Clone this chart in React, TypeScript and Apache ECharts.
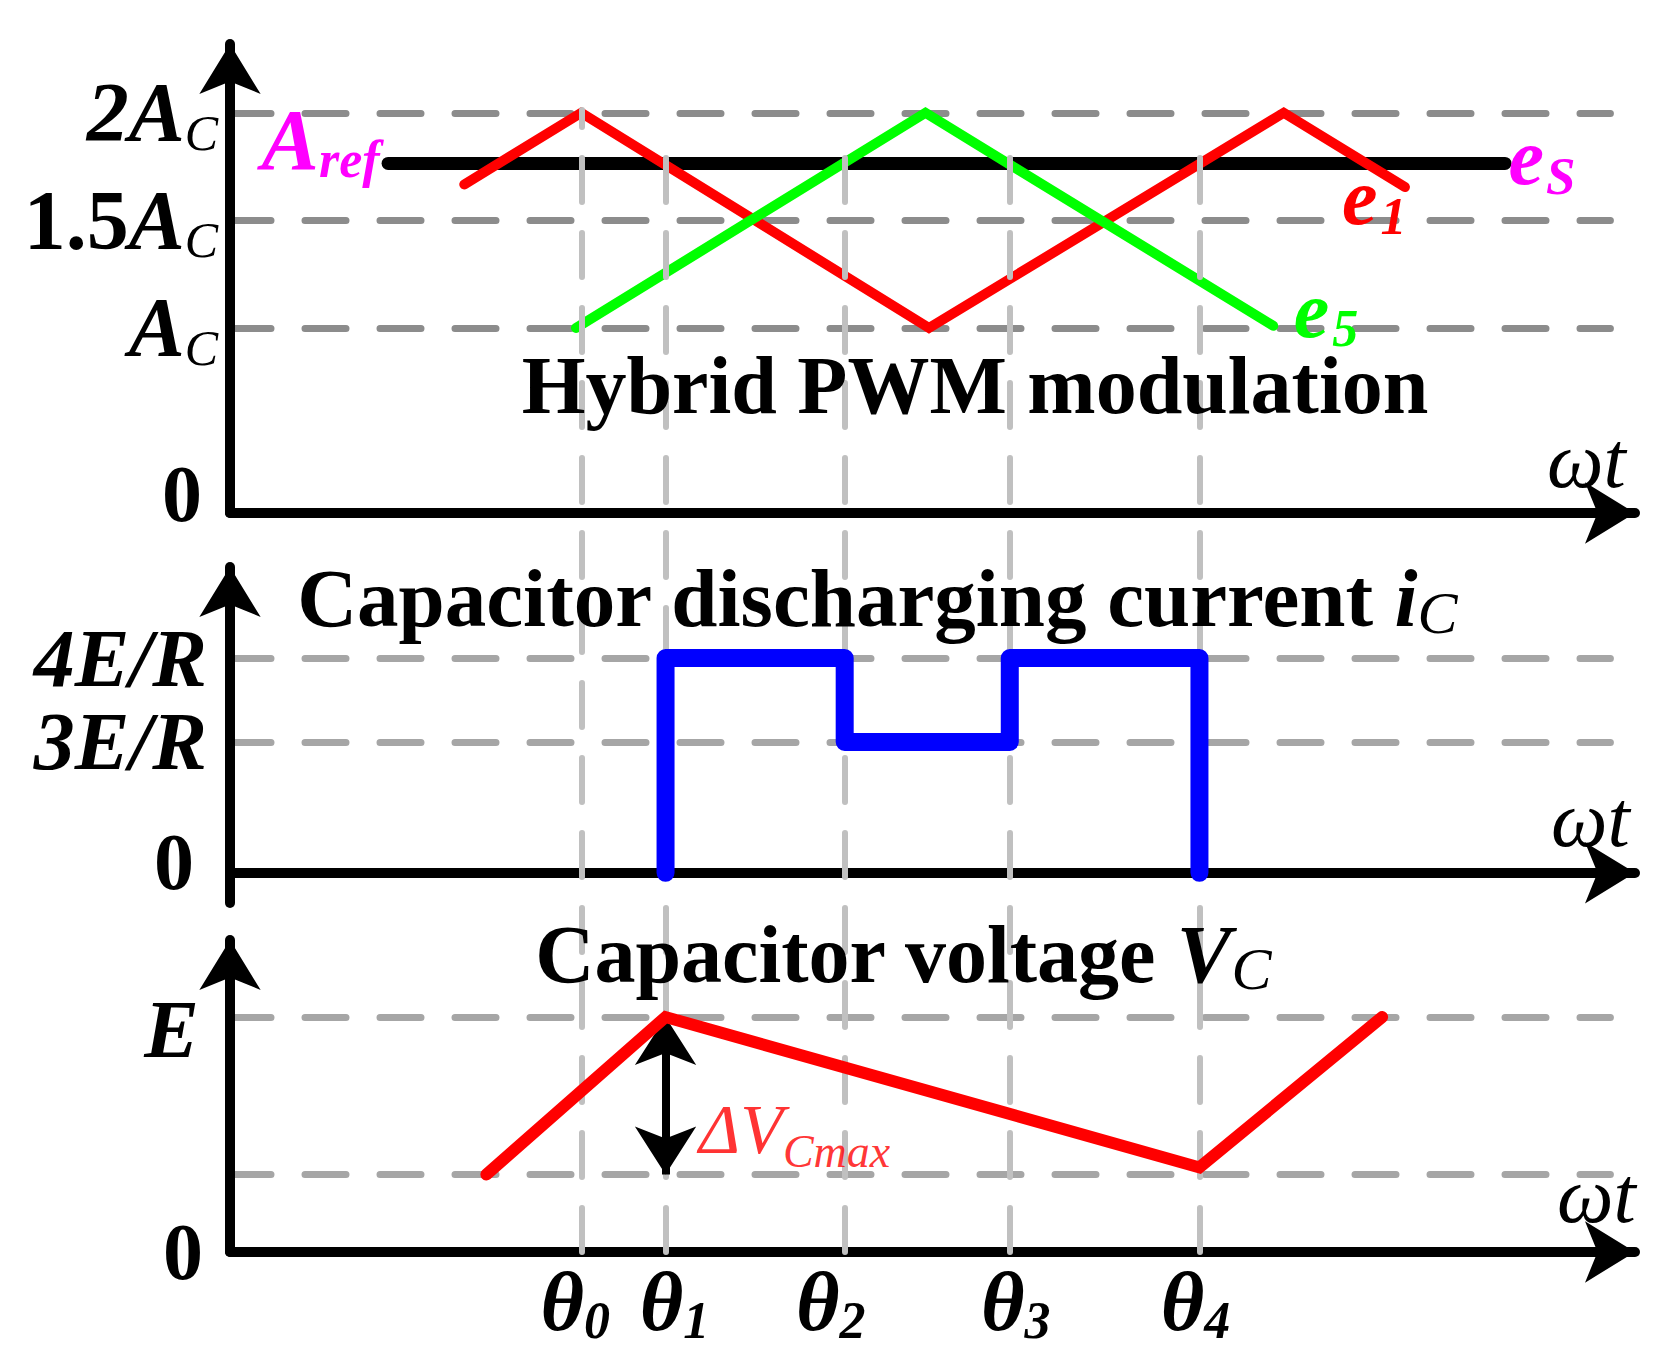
import React, { useEffect, useRef } from 'react';
import * as echarts from 'echarts';

const FONT = '"Liberation Serif", "Times New Roman", serif';

// ---- shared horizontal axis (ωt, in half carrier periods) ----
const X_MAX = 4.0;
const X_GUIDE_END = 3.93;
const thetaIndex = ['0', '1', '2', '3', '4'];
const thetaT = [1.0, 1.24, 1.75, 2.22, 2.76];
const thetaTop = [1.0, 0.97, 0.97, 0.97, 0.97];
const thetaLabelShift = [-6, 9, -14, 6, -4];

// ---- top panel: Hybrid PWM modulation (units of A_C) ----
const esT = [0.45, 3.63];
const esV = [1.765, 1.765];
const e1T = [0.667, 1.0, 1.99, 3.0, 3.345];
const e1V = [1.667, 2.0, 1.0, 2.0, 1.655];
const e5T = [0.985, 1.98, 2.97];
const e5V = [1.0, 2.0, 1.01];
const topGuideV = [2, 1.5, 1];
const topGuideLabel = ['{bi|2A}{si|C}', '{b|1.5}{bi|A}{si|C}', '{bi|A}{si|C}'];

// ---- middle panel: capacitor discharging current (units of E/R) ----
const icT = [thetaT[1], thetaT[1], thetaT[2], thetaT[2], thetaT[3], thetaT[3], thetaT[4], thetaT[4]];
const icV = [0, 4, 4, 3, 3, 4, 4, 0];
const midGuideV = [4, 3];
const midGuideLabel = ['{m|4E/R}', '{m|3E/R}'];

// ---- bottom panel: capacitor voltage (units of E) ----
const vcT = [0.73, thetaT[1], thetaT[4], 3.28];
const vcV = [0.33, 1.0, 0.36, 1.0];
const botGuideV = [1, 0.33];
const botGuideLabel = ['{m|E}', ''];
const dvT = thetaT[1];
const dvRange = [1.0, 0.33];
const dvLabelV = 0.52;

const pts = (t: number[], v: number[]) => t.map((x, i) => [x, v[i]]);

const RICH_AXIS = {
  b: { fontFamily: FONT, fontWeight: 'bold', fontSize: 84, lineHeight: 90, color: '#000' },
  bi: { fontFamily: FONT, fontWeight: 'bold', fontStyle: 'italic', fontSize: 84, lineHeight: 90, color: '#000' },
  si: { fontFamily: FONT, fontStyle: 'italic', fontSize: 50, lineHeight: 46, verticalAlign: 'bottom', color: '#000' },
  m: { fontFamily: FONT, fontWeight: 'bold', fontStyle: 'italic', fontSize: 82, lineHeight: 90, color: '#000' },
  z: { fontFamily: FONT, fontWeight: 'bold', fontSize: 80, lineHeight: 90, color: '#000' },
};
const RICH_THETA = {
  t: { fontFamily: FONT, fontWeight: 'bold', fontStyle: 'italic', fontSize: 84, lineHeight: 90, color: '#000' },
  s: { fontFamily: FONT, fontWeight: 'bold', fontStyle: 'italic', fontSize: 52, lineHeight: 48, verticalAlign: 'bottom', color: '#000' },
};
const richPair = (color: string, main: number, sub: number, subLh: number, italicOnly = false, subPad = 0) => ({
  a: { fontFamily: FONT, fontWeight: italicOnly ? 'normal' : 'bold', fontStyle: 'italic', fontSize: main, lineHeight: 90, color },
  s: {
    fontFamily: FONT,
    fontWeight: italicOnly ? 'normal' : 'bold',
    fontStyle: 'italic',
    fontSize: sub,
    lineHeight: subLh,
    verticalAlign: 'bottom',
    color,
    padding: [0, 0, 0, subPad],
  },
});

const ARROW_SIZE = [46, 50];

const xAxisOf = (gridIndex: number, nameGap: number, pad: number) => ({
  type: 'value',
  gridIndex,
  min: 0,
  max: X_MAX,
  z: 6,
  axisLine: {
    show: true,
    onZero: true,
    lineStyle: { color: '#000', width: 10, cap: 'round' },
    symbol: ['none', 'arrow'],
    symbolSize: ARROW_SIZE,
  },
  axisTick: { show: false },
  axisLabel: { show: false },
  splitLine: { show: false },
  name: 'ωt',
  nameLocation: 'end',
  nameGap,
  nameTextStyle: {
    fontFamily: FONT,
    fontStyle: 'italic',
    fontSize: 80,
    lineHeight: 80,
    color: '#000',
    align: 'left',
    verticalAlign: 'bottom',
    padding: [0, 0, pad, 0],
  },
});

const yAxisOf = (gridIndex: number, min: number, max: number, brk?: number[]) => ({
  type: 'value',
  gridIndex,
  min,
  max,
  z: 6,
  ...(brk ? { breaks: [{ start: brk[0], end: brk[1], gap: 0 }], breakArea: { show: false } } : {}),
  axisLine: {
    show: true,
    onZero: true,
    lineStyle: { color: '#000', width: 10, cap: 'round' },
    symbol: ['none', 'arrow'],
    symbolSize: ARROW_SIZE,
  },
  axisTick: { show: false },
  axisLabel: { show: false },
  splitLine: { show: false },
});

const guideLines = (
  values: number[],
  labels: string[],
  color: string,
  distance: number,
  zeroLabel: { distance: number; padding: number[] }
) => ({
  z: 3,
  silent: true,
  symbol: ['none', 'none'],
  lineStyle: { color, width: 7, type: [41, 34], cap: 'round' },
  label: { show: true, position: 'start', distance, rich: RICH_AXIS, lineHeight: 90, color: '#000' },
  data: [
    ...values.map((v, i) => [
      { coord: [0, v], label: { formatter: labels[i] || ' ', show: !!labels[i] } },
      { coord: [X_GUIDE_END, v] },
    ]),
    [
      {
        coord: [0, 0],
        lineStyle: { color: 'rgba(0,0,0,0)' },
        label: { formatter: '{z|0}', distance: zeroLabel.distance, padding: zeroLabel.padding },
      },
      { coord: [X_GUIDE_END, 0] },
    ],
  ],
});

function buildOption() {
  return {
    animation: false,
    backgroundColor: '#fff',
    textStyle: { fontFamily: FONT },
    grid: [
      { left: 230, right: 28, top: 44, bottom: 858 },
      { left: 230, right: 28, top: 567, bottom: 468 },
      { left: 230, right: 28, top: 940, bottom: 119 },
      { left: 230, right: 28, top: 110, bottom: 119 },
    ],
    xAxis: [
      xAxisOf(0, -88, 13),
      xAxisOf(1, -84, 14),
      xAxisOf(2, -78, 17),
      { type: 'value', gridIndex: 3, min: 0, max: X_MAX, show: false },
    ],
    yAxis: [
      yAxisOf(0, 0, 2.32, [0.4, 0.54]),
      yAxisOf(1, -0.36, 5.085, [0.6, 2.04]),
      yAxisOf(2, 0, 1.328),
      { type: 'value', gridIndex: 3, min: 0, max: 1, show: false },
    ],
    graphic: {
      elements: [
        {
          type: 'text',
          z: 20,
          x: 975,
          y: 385,
          style: {
            text: 'Hybrid PWM modulation',
            fontFamily: FONT,
            fontWeight: 'bold',
            fontSize: 82,
            lineHeight: 90,
            fill: '#000',
            align: 'center',
            verticalAlign: 'middle',
          },
        },
        {
          type: 'text',
          z: 20,
          x: 877,
          y: 598,
          style: {
            text: 'Capacitor discharging current {i|i}{s|C}',
            fontFamily: FONT,
            fontWeight: 'bold',
            fontSize: 83,
            lineHeight: 90,
            fill: '#000',
            align: 'center',
            verticalAlign: 'middle',
            rich: {
              i: { fontFamily: FONT, fontWeight: 'bold', fontStyle: 'italic', fontSize: 83, lineHeight: 90, fill: '#000' },
              s: { fontFamily: FONT, fontStyle: 'italic', fontSize: 60, lineHeight: 50, verticalAlign: 'bottom', fill: '#000' },
            },
          },
        },
        {
          type: 'text',
          z: 20,
          x: 903,
          y: 954,
          style: {
            text: 'Capacitor voltage {v|V}{s|C}',
            fontFamily: FONT,
            fontWeight: 'bold',
            fontSize: 82,
            lineHeight: 90,
            fill: '#000',
            align: 'center',
            verticalAlign: 'middle',
            rich: {
              v: { fontFamily: FONT, fontWeight: 'bold', fontStyle: 'italic', fontSize: 82, lineHeight: 90, fill: '#000' },
              s: { fontFamily: FONT, fontStyle: 'italic', fontSize: 60, lineHeight: 52, verticalAlign: 'bottom', fill: '#000' },
            },
          },
        },
      ],
    },
    series: [
      {
        name: 'e_S',
        type: 'line',
        xAxisIndex: 0,
        yAxisIndex: 0,
        z: 4,
        symbol: 'circle',
        symbolSize: 1,
        showSymbol: true,
        itemStyle: { color: '#000' },
        lineStyle: { color: '#000', width: 13, cap: 'round' },
        label: { show: false },
        data: [
          {
            value: [esT[0], esV[0]],
            label: {
              show: true,
              position: 'left',
              distance: 8,
              offset: [0, -23],
              formatter: '{a|A}{s|ref}',
              rich: richPair('#ff00ff', 86, 52, 54),
            },
          },
          {
            value: [esT[1], esV[1]],
            label: {
              show: true,
              position: 'right',
              distance: 3,
              offset: [0, -6],
              formatter: '{a|e}{s|S}',
              rich: richPair('#ff00ff', 80, 53, 44, false, 2),
            },
          },
        ],
        markLine: guideLines(topGuideV, topGuideLabel, '#8c8c8c', 12, { distance: 28, padding: [0, 0, 38, 0] }),
      },
      {
        name: 'e_1',
        type: 'line',
        xAxisIndex: 0,
        yAxisIndex: 0,
        z: 4,
        symbol: 'circle',
        symbolSize: 1,
        showSymbol: true,
        itemStyle: { color: '#ff0000' },
        lineStyle: { color: '#ff0000', width: 10, cap: 'round', join: 'miter' },
        label: { show: false },
        data: pts(e1T, e1V).map((p, i) =>
          i === e1T.length - 1
            ? {
                value: p,
                label: {
                  show: true,
                  position: 'left',
                  distance: 0,
                  offset: [2, 10],
                  formatter: '{a|e}{s|1}',
                  rich: richPair('#ff0000', 80, 52, 48, false, 3),
                },
              }
            : { value: p }
        ),
      },
      {
        name: 'e_5',
        type: 'line',
        xAxisIndex: 0,
        yAxisIndex: 0,
        z: 4,
        symbol: 'circle',
        symbolSize: 1,
        showSymbol: true,
        itemStyle: { color: '#00ff00' },
        lineStyle: { color: '#00ff00', width: 10, cap: 'round', join: 'miter' },
        label: { show: false },
        data: pts(e5T, e5V).map((p, i) =>
          i === e5T.length - 1
            ? {
                value: p,
                label: {
                  show: true,
                  position: 'right',
                  distance: 20,
                  offset: [0, -16],
                  formatter: '{a|e}{s|5}',
                  rich: richPair('#00ff00', 80, 52, 40, false, 3),
                },
              }
            : { value: p }
        ),
      },
      {
        name: 'i_C',
        type: 'line',
        xAxisIndex: 1,
        yAxisIndex: 1,
        z: 9,
        symbol: 'none',
        lineStyle: { color: '#0000ff', width: 18, cap: 'round', join: 'round' },
        data: pts(icT, icV),
        markLine: guideLines(midGuideV, midGuideLabel, '#a6a6a6', 23, { distance: 36, padding: [0, 0, 22, 0] }),
      },
      {
        name: 'V_C',
        type: 'line',
        xAxisIndex: 2,
        yAxisIndex: 2,
        z: 9,
        symbol: 'none',
        lineStyle: { color: '#ff0000', width: 12, cap: 'round', join: 'miter' },
        data: pts(vcT, vcV),
        markLine: (() => {
          const ml: any = guideLines(botGuideV, botGuideLabel, '#a6a6a6', 31, { distance: 27, padding: [0, 0, 0, 0] });
          ml.data[0][0].label.padding = [24, 0, 0, 0];
          return ml;
        })(),
      },
      {
        name: 'dV',
        type: 'scatter',
        xAxisIndex: 2,
        yAxisIndex: 2,
        z: 9,
        symbolSize: 1,
        itemStyle: { color: 'rgba(0,0,0,0)' },
        data: [
          {
            value: [dvT, dvLabelV],
            label: {
              show: true,
              position: 'right',
              distance: 33,
              formatter: '{a|ΔV}{s|Cmax}',
              rich: richPair('#ff0000', 70, 46, 56, true),
            },
          },
        ],
        markLine: {
          z: 9,
          silent: true,
          symbol: ['arrow', 'arrow'],
          symbolSize: [46, 48],
          lineStyle: { color: '#000', width: 8, type: 'solid' },
          itemStyle: { color: '#000' },
          label: { show: false },
          data: [[{ coord: [dvT, dvRange[0]] }, { coord: [dvT, dvRange[1]] }]],
        },
      },
      {
        name: 'theta',
        type: 'line',
        xAxisIndex: 3,
        yAxisIndex: 3,
        z: 7,
        symbol: 'none',
        lineStyle: { width: 0 },
        data: [[0, 0]],
        markLine: {
          z: 7,
          silent: true,
          symbol: ['none', 'none'],
          lineStyle: { color: '#c0c0c0', width: 6, type: [44, 31], cap: 'round' },
          label: { show: true, position: 'start', distance: 4, rich: RICH_THETA, lineHeight: 90, color: '#000' },
          data: thetaT.map((t, i) => [
            {
              coord: [t, 0],
              label: { formatter: `{t|θ}{s|${thetaIndex[i]}}`, offset: [thetaLabelShift[i], 0] },
            },
            { coord: [t, thetaTop[i]] },
          ]),
        },
      },
    ],
  };
}

export default function App() {
  const ref = useRef<HTMLDivElement>(null);
  useEffect(() => {
    document.body.style.margin = '0';
    const chart = echarts.init(ref.current as HTMLDivElement, undefined, {
      renderer: 'svg',
      width: 1663,
      height: 1371,
    });
    chart.setOption(buildOption() as any);
    return () => chart.dispose();
  }, []);
  return (
    <div
      ref={ref}
      style={{ position: 'absolute', left: 0, top: 0, width: 1663, height: 1371, background: '#fff' }}
    />
  );
}
